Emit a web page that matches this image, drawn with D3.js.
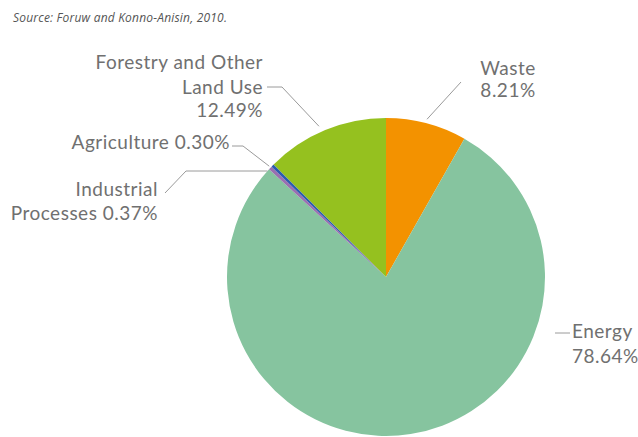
<!DOCTYPE html>
<html>
<head>
<meta charset="utf-8">
<script src="https://cdn.jsdelivr.net/npm/d3@7"></script>
<style>
  body { margin: 0; background: #fff; }
  svg { display: block; }
</style>
</head>
<body>
<div id="chart"></div>
<script>
// Data (clockwise from 12 o'clock)
const sectors = ["Waste", "Energy", "Industrial Processes", "Agriculture", "Forestry and Other Land Use"];
const shares  = [8.21, 78.64, 0.37, 0.30, 12.49];
const colors  = ["#f39200", "#86c49f", "#9a70b0", "#2b5cae", "#95c11f"];
const sourceNote = "Source: Foruw and Konno-Anisin, 2010.";

// Label text, one entry per line
const labelLines = [
    ["Waste", "8.21%"],
    ["Energy", "78.64%"],
    ["Industrial", "Processes 0.37%"],
    ["Agriculture 0.30%"],
    ["Forestry and Other", "Land Use", "12.49%"]
];

function drawPie()
{
    var width = 638, height = 437;
    var cx = 386, cy = 277, radius = 159;

    var svg = d3.select("#chart")
        .append("svg")
        .attr("width", width)
        .attr("height", height);

    var font = "Lato, 'Open Sans', sans-serif";
    var textColor = "#707070";

    // Source note
    svg.append("text")
        .attr("x", 13)
        .attr("y", 22)
        .style("font-family", "'Open Sans', sans-serif")
        .style("font-style", "italic")
        .style("font-size", "12px")
        .style("letter-spacing", "0.2px")
        .style("fill", "#555")
        .text(sourceNote);

    var data = sectors.map((s, i) => ({ name: s, value: shares[i], color: colors[i], lines: labelLines[i] }));

    var pie = d3.pie()
        .sort(null)
        .value(d => d.value);

    var arcs = pie(data);

    var arc = d3.arc()
        .innerRadius(0)
        .outerRadius(radius);

    var g = svg.append("g")
        .attr("transform", "translate(" + cx + "," + cy + ")");

    g.selectAll("path")
        .data(arcs)
        .enter()
        .append("path")
        .attr("d", arc)
        .attr("fill", d => d.data.color);

    // anchor on the rim of a slice, with small angle nudge (degrees)
    function rimPoint(a, nudge, extra)
    {
        var ang = (a.startAngle + a.endAngle) / 2 + nudge * Math.PI / 180;
        var r = radius + extra;
        return [cx + r * Math.sin(ang), cy - r * Math.cos(ang)];
    }

    // Text placement per label: x, anchor, baselines
    var textPos = [
        { x: 508, anchor: "middle", ys: [75, 97] },
        { x: 572, anchor: "start",  ys: [338, 363] },
        { x: 158, anchor: "end",    ys: [196, 220] },
        { x: 230, anchor: "end",    ys: [149] },
        { x: 263, anchor: "end",    ys: [69, 94, 117] }
    ];

    // Leader lines: start point near text, elbow, then rim point
    var leaders = [
        { pts: [[461, 82]], nudge: -0.2, extra: 4 },
        { pts: [[555, 333], [570, 333]], rim: false },
        { pts: [[165, 193], [186, 171]], flat: true },
        { pts: [[232, 146], [243, 146]], nudge: -1.0, extra: 2 },
        { pts: [[267, 87], [282, 87]], nudge: -1.5, extra: 6 }
    ];

    var line = d3.line();

    leaders.forEach((ld, i) => {
        var pts = ld.pts.slice();
        if (ld.rim !== false)
        {
            var p;
            if (ld.flat)
            {
                // horizontal run to the rim at the elbow's height
                var y = pts[pts.length - 1][1];
                var dx = Math.sqrt(radius * radius - (cy - y) * (cy - y));
                p = [cx - dx, y];
            }
            else
                p = rimPoint(arcs[i], ld.nudge, ld.extra);
            pts.push(p);
        }
        svg.append("path")
            .attr("d", line(pts))
            .attr("fill", "none")
            .attr("stroke", "#9a9a9a")
            .attr("stroke-width", 1);
    });

    data.forEach((d, i) => {
        var tp = textPos[i];
        d.lines.forEach((t, j) => {
            svg.append("text")
                .attr("x", tp.x)
                .attr("y", tp.ys[j])
                .attr("text-anchor", tp.anchor)
                .style("font-family", font)
                .style("font-size", "19px")
                .style("letter-spacing", "0.5px")
                .style("fill", textColor)
                .text(t);
        });
    });
}

drawPie();
</script>
</body>
</html>
